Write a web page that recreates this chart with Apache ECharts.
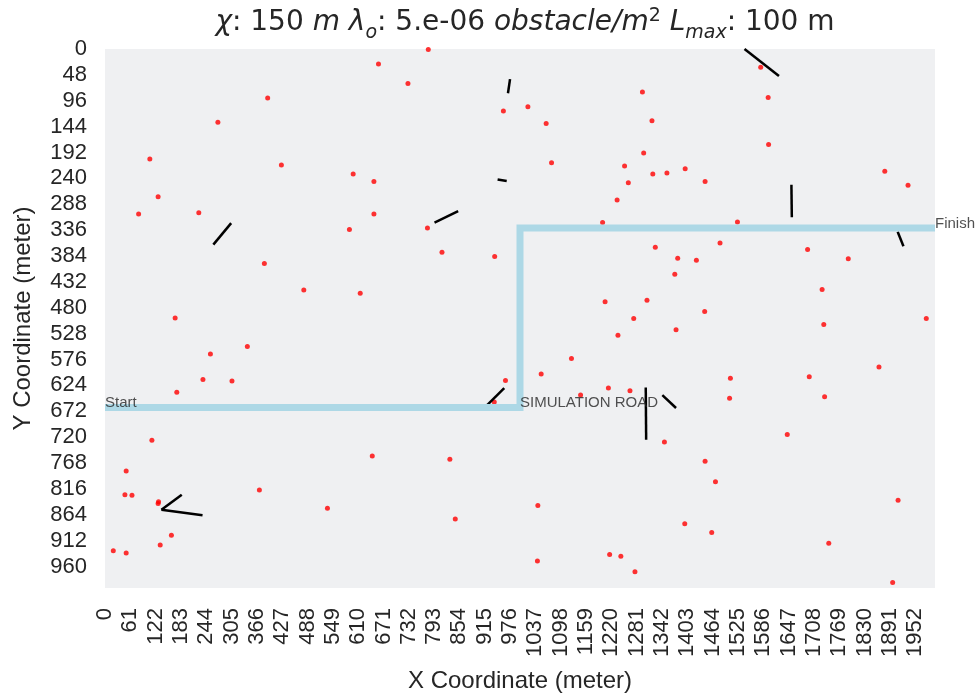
<!DOCTYPE html>
<html>
<head>
<meta charset="utf-8">
<script src="https://cdn.jsdelivr.net/npm/echarts@6/dist/echarts.min.js"></script>
<style>
  html, body { margin: 0; padding: 0; background: #fff; }
</style>
</head>
<body>
<div id="main" style="width: 979px; height: 700px"></div>
<script>
// obstacle points (meter)
const dotX = [659, 730, 392, 272, 108, 425, 598, 648, 128, 81, 226, 648, 589, 384, 479, 615, 169,
  779, 960, 1019, 1063, 1076, 1295, 1318, 1298, 1252, 1320, 1354, 1398, 1446, 1261, 1234, 1199, 1524,
  777, 812, 939, 1326, 1482, 1380, 1425, 1373, 1205, 1306, 1445, 1274,
  1580, 1598, 1599, 1879, 1935, 1693, 1791, 1728, 1979,
  254, 343, 236, 306, 173, 113, 51, 48, 65, 129, 128, 372, 536, 644, 160, 133, 20, 51,
  1236, 1376, 1124, 1051, 965, 1213, 1265, 1146, 938, 1507, 1505, 1348, 831, 1446, 1471, 1043, 844,
  1397, 1462, 1216, 1243, 1042, 1277,
  1732, 1865, 1697, 1734, 1644, 1911, 1744, 1898]
const dotY = [28, 64, 91, 136, 204, 215, 232, 246, 274, 306, 304, 306, 335, 398, 447, 453, 499,
  1, 115, 107, 138, 211, 80, 133, 193, 217, 232, 230, 222, 246, 248, 280, 322, 321,
  332, 377, 385, 368, 360, 388, 392, 418, 469, 466, 487, 500,
  34, 90, 177, 227, 253, 372, 389, 446, 500,
  566, 552, 613, 616, 637, 726, 783, 827, 828, 840, 843, 818, 852, 755, 902, 920, 931, 935,
  531, 521, 574, 603, 615, 629, 634, 642, 655, 611, 648, 729, 761, 765, 803, 847, 872,
  881, 897, 938, 941, 950, 970,
  511, 590, 608, 645, 715, 837, 917, 990]

// wall segments: [x1, y1, x2, y2]
const walls = [
  [261, 363, 304, 323],
  [976, 56, 971, 82],
  [946, 242, 968, 245],
  [794, 322, 851, 301],
  [1541, 0, 1624, 50],
  [1654, 252, 1655, 312],
  [1910, 339, 1924, 366],
  [185, 827, 136, 855],
  [136, 855, 235, 865],
  [911, 668, 962, 629],
  [1303, 628, 1304, 725],
  [1343, 642, 1376, 666]
]

// road polyline
const roadX = [0, 1000, 1000, 2000]
const roadY = [665, 665, 332, 332]

const noteText = ['Start', 'SIMULATION ROAD', 'Finish']
const noteX = [0, 1000, 2000]
const noteY = [665, 665, 332]

const chartDom = document.getElementById('main')
const myChart = echarts.init(chartDom)
const axisFont = 'Liberation Sans, Arial, sans-serif'
var option
option = {
  animation: false,
  title: {
    text: '{i|χ}: 150 {i|m} {i|λ}{sub|o}: 5.e-06 {i|obstacle/m}{sup|2} {i|L}{sub|max}: 100 m',
    left: 520,
    top: 4,
    textAlign: 'center',
    textStyle: {
      fontFamily: 'DejaVu Sans',
      fontSize: 28,
      fontWeight: 'normal',
      color: '#262626',
      rich: {
        i: { fontFamily: 'DejaVu Sans', fontStyle: 'italic', fontSize: 28, color: '#262626' },
        sub: { fontFamily: 'DejaVu Sans', fontStyle: 'italic', fontSize: 19, color: '#262626', verticalAlign: 'bottom', padding: [0, 0, -6, 0] },
        sup: { fontFamily: 'DejaVu Sans', fontSize: 19, color: '#262626', verticalAlign: 'top', padding: [-2, 0, 0, 0] }
      }
    }
  },
  grid: {
    left: 105,
    right: 44,
    top: 49,
    bottom: 112,
    show: true,
    backgroundColor: '#eff0f2',
    borderWidth: 0
  },
  xAxis: {
    type: 'value',
    min: 0,
    max: 2000,
    interval: 61,
    name: 'X Coordinate (meter)',
    nameLocation: 'middle',
    nameGap: 81,
    nameTextStyle: { fontFamily: axisFont, fontSize: 24, color: '#262626' },
    axisLine: { show: false },
    axisTick: { show: false },
    splitLine: { show: false },
    axisLabel: {
      rotate: 90,
      margin: 20,
      showMaxLabel: false,
      formatter: v => String(v),
      fontFamily: axisFont,
      fontSize: 22,
      color: '#262626'
    }
  },
  yAxis: {
    type: 'value',
    inverse: true,
    min: 0,
    max: 1000,
    interval: 48,
    name: 'Y Coordinate (meter)',
    nameLocation: 'middle',
    nameGap: 70,
    nameTextStyle: { fontFamily: axisFont, fontSize: 24, color: '#262626' },
    axisLine: { show: false },
    axisTick: { show: false },
    splitLine: { show: false },
    axisLabel: {
      margin: 18,
      showMaxLabel: false,
      formatter: v => String(v),
      fontFamily: axisFont,
      fontSize: 22,
      color: '#262626'
    }
  },
  series: [
    {
      type: 'scatter',
      symbolSize: 5,
      itemStyle: { color: '#ff0000' },
      data: dotX.map((x, i) => [x, dotY[i]]),
      z: 2
    },
    {
      type: 'lines',
      coordinateSystem: 'cartesian2d',
      lineStyle: { color: '#000', width: 2.5, opacity: 1 },
      data: walls.map(w => ({ coords: [[w[0], w[1]], [w[2], w[3]]] })),
      z: 3
    },
    {
      type: 'line',
      showSymbol: false,
      lineStyle: { color: '#add8e6', width: 7, join: 'miter', cap: 'butt' },
      data: roadX.map((x, i) => [x, roadY[i]]),
      z: 4
    },
    {
      type: 'scatter',
      symbolSize: 0,
      silent: true,
      data: noteX.map((x, i) => ({ value: [x, noteY[i]], name: noteText[i] })),
      label: {
        show: true,
        position: [0, 3],
        align: 'left',
        verticalAlign: 'bottom',
        formatter: p => p.name,
        fontFamily: axisFont,
        fontSize: 15,
        color: '#262626'
      },
      z: 5
    }
  ]
}
option && myChart.setOption(option)
</script>
</body>
</html>
